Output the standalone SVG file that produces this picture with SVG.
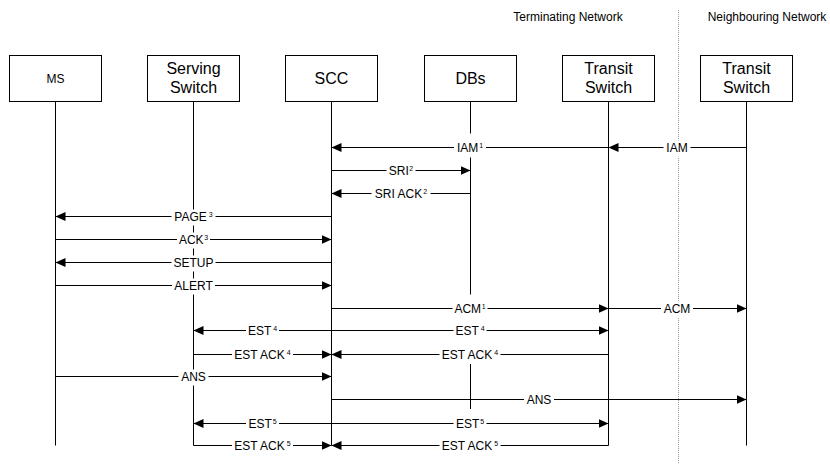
<svg xmlns="http://www.w3.org/2000/svg" width="830" height="464" viewBox="0 0 830 464">
  <style>
    .box { fill: #fff; stroke: #000; stroke-width: 1; }
    .life { stroke: #000; stroke-width: 1; fill: none; }
    .msg { stroke: #000; stroke-width: 1; fill: none; marker-end: url(#arrow); }
    .plain { stroke: #000; stroke-width: 1; fill: none; }
    .bg { fill: #fff; stroke: none; }
    .name { font-family: "Liberation Sans", Arial, sans-serif; font-size: 16px; fill: #000; text-anchor: middle; }
    .small { font-family: "Liberation Sans", Arial, sans-serif; font-size: 12px; fill: #000; text-anchor: middle; }
    .lbl { font-family: "Liberation Sans", Arial, sans-serif; font-size: 12px; fill: #000; text-anchor: middle; }
    .sup { font-size: 7px; }
    .zone { stroke: #999; stroke-width: 1; stroke-dasharray: 1 1; fill: none; }
  </style>
  <defs>
    <marker id="arrow" viewBox="0 0 10 9" refX="10" refY="4.5" markerWidth="10" markerHeight="9" markerUnits="userSpaceOnUse" orient="auto">
      <path d="M0,0 L10,4.5 L0,9 z" fill="#000"/>
    </marker>
  </defs>

  <rect width="830" height="464" fill="#fff"/>

  <!-- network zones -->
  <g id="zones">
    <line class="zone" x1="678.5" y1="10" x2="678.5" y2="464"/>
    <text class="small" x="568" y="21">Terminating Network</text>
    <text class="small" x="767" y="21">Neighbouring Network</text>
  </g>

  <!-- participants -->
  <g id="node-ms">
    <line class="life" x1="55.5" y1="101.5" x2="55.5" y2="445.5"/>
    <rect class="box" x="9.5" y="55.5" width="92" height="46"/>
    <text class="small" x="55.5" y="83">MS</text>
  </g>
  <g id="node-serving">
    <line class="life" x1="193.5" y1="101.5" x2="193.5" y2="445.5"/>
    <rect class="box" x="147.5" y="55.5" width="92" height="46"/>
    <text class="name" x="193.5" y="74">Serving</text>
    <text class="name" x="193.5" y="92.5">Switch</text>
  </g>
  <g id="node-scc">
    <line class="life" x1="331.5" y1="101.5" x2="331.5" y2="445.5"/>
    <rect class="box" x="285.5" y="55.5" width="92" height="46"/>
    <text class="name" x="331.5" y="84">SCC</text>
  </g>
  <g id="node-dbs">
    <path class="life" d="M470.5,101.5 V133.5 M470.5,157.5 V294.5 M470.5,364 V409"/>
    <rect class="box" x="424.5" y="55.5" width="92" height="46"/>
    <text class="name" x="470.5" y="84">DBs</text>
  </g>
  <g id="node-transit">
    <line class="life" x1="608.5" y1="101.5" x2="608.5" y2="445.5"/>
    <rect class="box" x="562.5" y="55.5" width="92" height="46"/>
    <text class="name" x="608.5" y="74">Transit</text>
    <text class="name" x="608.5" y="92.5">Switch</text>
  </g>
  <g id="node-neighbour">
    <line class="life" x1="746.5" y1="101.5" x2="746.5" y2="445.5"/>
    <rect class="box" x="700.5" y="55.5" width="92" height="46"/>
    <text class="name" x="746.5" y="74">Transit</text>
    <text class="name" x="746.5" y="92.5">Switch</text>
  </g>

  <!-- messages -->
  <g id="connectors">
    <line class="msg" x1="608.5" y1="147.5" x2="331.5" y2="147.5"/>
    <line class="msg" x1="746.5" y1="147.5" x2="608.5" y2="147.5"/>
    <line class="msg" x1="331.5" y1="170.5" x2="470.5" y2="170.5"/>
    <line class="msg" x1="470.5" y1="193.5" x2="331.5" y2="193.5"/>
    <line class="msg" x1="331.5" y1="216.5" x2="55.5" y2="216.5"/>
    <line class="msg" x1="55.5" y1="239.5" x2="331.5" y2="239.5"/>
    <line class="msg" x1="331.5" y1="262.5" x2="55.5" y2="262.5"/>
    <line class="msg" x1="55.5" y1="285.5" x2="331.5" y2="285.5"/>
    <line class="msg" x1="331.5" y1="308.5" x2="608.5" y2="308.5"/>
    <line class="msg" x1="608.5" y1="308.5" x2="746.5" y2="308.5"/>
    <line class="msg" x1="331.5" y1="330.5" x2="193.5" y2="330.5"/>
    <line class="msg" x1="331.5" y1="330.5" x2="608.5" y2="330.5"/>
    <line class="msg" x1="193.5" y1="354.5" x2="331.5" y2="354.5"/>
    <line class="msg" x1="608.5" y1="354.5" x2="331.5" y2="354.5"/>
    <line class="msg" x1="55.5" y1="376.5" x2="331.5" y2="376.5"/>
    <line class="msg" x1="331.5" y1="399.5" x2="746.5" y2="399.5"/>
    <line class="msg" x1="331.5" y1="423.5" x2="193.5" y2="423.5"/>
    <line class="msg" x1="331.5" y1="423.5" x2="608.5" y2="423.5"/>
    <line class="msg" x1="193.5" y1="445.5" x2="331.5" y2="445.5"/>
    <line class="msg" x1="608.5" y1="445.5" x2="331.5" y2="445.5"/>

    <!-- message labels on white backing -->
    <g id="labels">
      <rect class="bg" x="454" y="140.5" width="32" height="16"/>
      <text class="lbl" x="470" y="152">IAM<tspan class="sup" dx="1" dy="-4">1</tspan></text>

      <rect class="bg" x="663.5" y="140.5" width="27" height="16"/>
      <text class="lbl" x="677" y="152">IAM</text>

      <rect class="bg" x="386.5" y="163.5" width="29" height="16"/>
      <text class="lbl" x="401" y="175">SRI<tspan class="sup" dx="0.5" dy="-4">2</tspan></text>

      <rect class="bg" x="371.5" y="186.5" width="59" height="16"/>
      <text class="lbl" x="401" y="198">SRI ACK<tspan class="sup" dx="1" dy="-4">2</tspan></text>

      <rect class="bg" x="171.5" y="209.5" width="44" height="16"/>
      <text class="lbl" x="193.5" y="221">PAGE<tspan class="sup" dx="2" dy="-4">3</tspan></text>

      <rect class="bg" x="177" y="232.5" width="33" height="16"/>
      <text class="lbl" x="193.5" y="244">ACK<tspan class="sup" dx="0.5" dy="-4">3</tspan></text>

      <rect class="bg" x="171.5" y="255.5" width="44" height="16"/>
      <text class="lbl" x="193.5" y="267">SETUP</text>

      <rect class="bg" x="172" y="278.5" width="43" height="16"/>
      <text class="lbl" x="193.5" y="290">ALERT</text>

      <rect class="bg" x="452.5" y="301.5" width="35" height="16"/>
      <text class="lbl" x="470" y="313">ACM<tspan class="sup" dx="0.5" dy="-4">1</tspan></text>

      <rect class="bg" x="661" y="301.5" width="32" height="16"/>
      <text class="lbl" x="677" y="313">ACM</text>

      <rect class="bg" x="246" y="323.5" width="33" height="16"/>
      <text class="lbl" x="262.5" y="335">EST<tspan class="sup" dx="2" dy="-4">4</tspan></text>

      <rect class="bg" x="453.5" y="323.5" width="33" height="16"/>
      <text class="lbl" x="470" y="335">EST<tspan class="sup" dx="2" dy="-4">4</tspan></text>

      <rect class="bg" x="232" y="347.5" width="61" height="16"/>
      <text class="lbl" x="262.5" y="359">EST ACK<tspan class="sup" dx="2" dy="-4">4</tspan></text>

      <rect class="bg" x="439.5" y="347.5" width="61" height="16"/>
      <text class="lbl" x="470" y="359">EST ACK<tspan class="sup" dx="2" dy="-4">4</tspan></text>

      <rect class="bg" x="178.5" y="369.5" width="30" height="16"/>
      <text class="lbl" x="193.5" y="381">ANS</text>

      <rect class="bg" x="524" y="392.5" width="30" height="16"/>
      <text class="lbl" x="539" y="404">ANS</text>

      <rect class="bg" x="246" y="416.5" width="33" height="16"/>
      <text class="lbl" x="262.5" y="428">EST<tspan class="sup" dx="1" dy="-4">5</tspan></text>

      <rect class="bg" x="453.5" y="416.5" width="33" height="16"/>
      <text class="lbl" x="470" y="428">EST<tspan class="sup" dx="1" dy="-4">5</tspan></text>

      <rect class="bg" x="232" y="438.5" width="61" height="14"/>
      <text class="lbl" x="262.5" y="450">EST ACK<tspan class="sup" dx="2" dy="-4">5</tspan></text>

      <rect class="bg" x="439.5" y="438.5" width="61" height="14"/>
      <text class="lbl" x="470" y="450">EST ACK<tspan class="sup" dx="2" dy="-4">5</tspan></text>
    </g>
  </g>
</svg>
